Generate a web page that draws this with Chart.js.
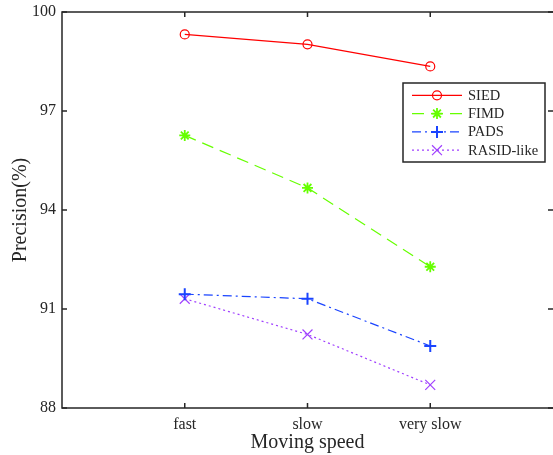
<!DOCTYPE html>
<html>
<head>
<meta charset="utf-8">
<script src="https://cdn.jsdelivr.net/npm/chart.js@4.4.1/dist/chart.umd.min.js"></script>
<style>
    html, body { margin: 0; padding: 0; background: #fff; overflow: hidden; }
    #canvas1 { display: block; }
</style>
</head>
<body>
<canvas id="canvas1" width="553" height="455"></canvas>
<script>
// Precision per moving speed

var categories = ['fast', 'slow', 'very slow'];
var seriesNames = ['SIED', 'FIMD', 'PADS', 'RASID-like'];
var dataSIED = [99.32, 99.02, 98.35];
var dataFIMD = [96.26, 94.67, 92.28];
var dataPADS = [91.45, 91.31, 89.88];
var dataRASID = [91.31, 90.23, 88.70];
var yTicks = [88, 91, 94, 97, 100];

var fontFamily = "'Liberation Serif', 'Times New Roman', serif";
var textColor = '#262626';

function toPoints(values) {
    return values.map(function (v, i) { return { x: i + 1, y: v }; });
}

// no extra room for overhanging tick labels, the layout padding handles it
function noScalePadding(axis) {
    axis.paddingTop = 0;
    axis.paddingBottom = 0;
    axis.paddingLeft = 0;
    axis.paddingRight = 0;
}

// box around the plot with inward tick marks on all four sides
var framePlugin = {
    id: 'frame',
    afterDraw: function (chart) {
        var ctx = chart.ctx, a = chart.chartArea;
        var xs = chart.scales.x, ys = chart.scales.y;
        // the right edge of the box falls just outside the canvas
        var right = a.right + 0.8;
        ctx.save();
        ctx.strokeStyle = textColor;
        ctx.lineWidth = 1.5;
        ctx.setLineDash([]);
        ctx.strokeRect(a.left, a.top, right - a.left, a.bottom - a.top);
        ctx.beginPath();
        categories.forEach(function (c, i) {
            var px = xs.getPixelForValue(i + 1);
            ctx.moveTo(px, a.bottom); ctx.lineTo(px, a.bottom - 5);
            ctx.moveTo(px, a.top); ctx.lineTo(px, a.top + 5);
        });
        yTicks.forEach(function (v) {
            var py = ys.getPixelForValue(v);
            ctx.moveTo(a.left, py); ctx.lineTo(a.left + 5, py);
            ctx.moveTo(a.right, py); ctx.lineTo(a.right - 5, py);
        });
        ctx.stroke();
        ctx.restore();
    }
};

// boxed legend with line + marker samples
var legendPlugin = {
    id: 'boxLegend',
    afterDraw: function (chart) {
        var ctx = chart.ctx;
        var box = { left: 403, top: 83, width: 142, height: 79 };
        ctx.save();
        ctx.fillStyle = '#fff';
        ctx.fillRect(box.left, box.top, box.width, box.height);
        ctx.strokeStyle = textColor;
        ctx.lineWidth = 1.5;
        ctx.strokeRect(box.left, box.top, box.width, box.height);

        chart.data.datasets.forEach(function (ds, i) {
            var y = 95.3 + i * 18.3;
            ctx.strokeStyle = ds.borderColor;
            ctx.lineWidth = ds.borderWidth;
            ctx.setLineDash(ds.borderDash || []);
            ctx.beginPath();
            ctx.moveTo(412, y);
            ctx.lineTo(462, y);
            ctx.stroke();
            ctx.setLineDash([]);
            ctx.fillStyle = 'rgba(0,0,0,0)';
            ctx.lineWidth = ds.pointBorderWidth;
            Chart.helpers.drawPoint(ctx, {
                pointStyle: ds.pointStyle,
                radius: ds.pointRadius,
                borderWidth: ds.pointBorderWidth,
                rotation: 0
            }, 437, y);
            ctx.fillStyle = textColor;
            ctx.font = '14.5px ' + fontFamily;
            ctx.textBaseline = 'middle';
            ctx.textAlign = 'left';
            ctx.fillText(ds.label, 468, y + 0.5);
        });
        ctx.restore();
    }
};

var ctx1 = document.getElementById('canvas1').getContext('2d');
window.myLine = new Chart(ctx1, {
    type: 'line',
    data: {
        datasets: [{
            label: seriesNames[0],
            data: toPoints(dataSIED),
            borderColor: '#ff0000',
            borderWidth: 1.2,
            pointStyle: 'circle',
            pointRadius: 4.5,
            pointBorderWidth: 1.2,
            pointBorderColor: '#ff0000',
            pointBackgroundColor: 'rgba(0,0,0,0)'
        }, {
            label: seriesNames[1],
            data: toPoints(dataFIMD),
            borderColor: '#66ff00',
            borderWidth: 1.2,
            borderDash: [12, 7],
            pointStyle: 'star',
            pointRadius: 5.5,
            pointBorderWidth: 1.8,
            pointBorderColor: '#66ff00',
            pointBackgroundColor: 'rgba(0,0,0,0)'
        }, {
            label: seriesNames[2],
            data: toPoints(dataPADS),
            borderColor: '#1a44ff',
            borderWidth: 1.2,
            borderDash: [9, 4, 2, 4],
            pointStyle: 'cross',
            pointRadius: 6,
            pointBorderWidth: 2,
            pointBorderColor: '#1a44ff',
            pointBackgroundColor: 'rgba(0,0,0,0)'
        }, {
            label: seriesNames[3],
            data: toPoints(dataRASID),
            borderColor: '#a040ff',
            borderWidth: 1.2,
            borderDash: [2, 3],
            pointStyle: 'crossRot',
            pointRadius: 7,
            pointBorderWidth: 1.2,
            pointBorderColor: '#a040ff',
            pointBackgroundColor: 'rgba(0,0,0,0)'
        }]
    },
    options: {
        responsive: false,
        animation: false,
        devicePixelRatio: 1,
        layout: { autoPadding: false, padding: { top: 12, left: 0, right: 0, bottom: 0 } },
        plugins: {
            legend: { display: false },
            tooltip: { enabled: false }
        },
        scales: {
            x: {
                type: 'linear',
                min: 0,
                max: 4,
                grid: { display: false, drawTicks: false },
                border: { display: false },
                afterBuildTicks: function (axis) {
                    axis.ticks = categories.map(function (c, i) { return { value: i + 1 }; });
                },
                afterFit: function (axis) {
                    axis.height = 47;
                    noScalePadding(axis);
                },
                ticks: {
                    padding: 7,
                    autoSkip: false,
                    maxRotation: 0,
                    color: textColor,
                    font: { family: fontFamily, size: 16 },
                    callback: function (v) { return categories[v - 1]; }
                },
                title: {
                    display: true,
                    text: 'Moving speed',
                    color: textColor,
                    font: { family: fontFamily, size: 20, lineHeight: 1.2 },
                    padding: { top: 0, bottom: 0 }
                }
            },
            y: {
                min: 88,
                max: 100,
                grid: { display: false, drawTicks: false },
                border: { display: false },
                afterBuildTicks: function (axis) {
                    axis.ticks = yTicks.map(function (v) { return { value: v }; });
                },
                afterFit: function (axis) {
                    axis.width = 62;
                    noScalePadding(axis);
                },
                ticks: {
                    padding: 6,
                    color: textColor,
                    font: { family: fontFamily, size: 16 }
                },
                title: {
                    display: true,
                    text: 'Precision(%)',
                    color: textColor,
                    font: { family: fontFamily, size: 20, lineHeight: 1.2 },
                    padding: { top: 9, bottom: 0 }
                }
            }
        }
    },
    plugins: [framePlugin, legendPlugin]
});
</script>
</body>
</html>
